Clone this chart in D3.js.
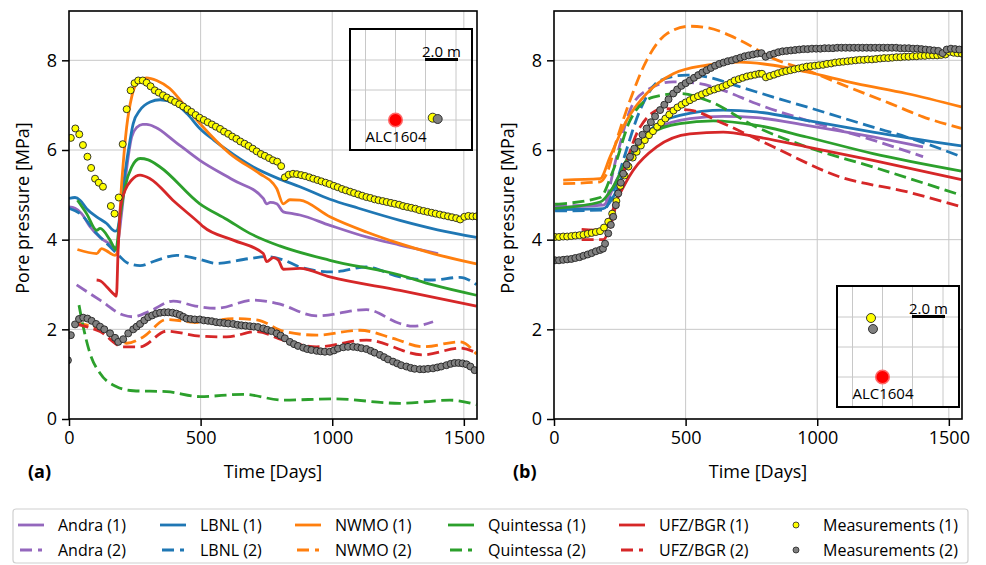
<!DOCTYPE html>
<html>
<head>
<meta charset="utf-8">
<script src="https://cdn.jsdelivr.net/npm/d3@7"></script>
<style>
body { margin: 0; background: #fff; }
svg text { font-family: 'Open Sans', sans-serif; fill: #000; }
</style>
</head>
<body>
<script>
// ---- data: [time in days, pore pressure in MPa] ----

// panel (a)
var andra1_a = [[0,4.73],[23,4.70],[48,4.58],[80,4.29],[118,4.05],[156,3.90],[180,3.82],[200,4.6],[213,5.3],[225,5.85],[238,6.29],[257,6.50],[280,6.57],[295,6.57],[330,6.50],[400,6.2],[497,5.77],[624,5.33],[738,4.92],[751,4.80],[765,4.83],[789,4.80],[814,4.62],[850,4.58],[877,4.55],[991,4.32],[1130,4.06],[1257,3.88],[1402,3.69]];
var andra2_a = [[29,2.99],[118,2.65],[206,2.32],[244,2.28],[308,2.41],[396,2.63],[480,2.52],[561,2.47],[700,2.65],[789,2.58],[941,2.30],[1130,2.44],[1257,2.13],[1307,2.07],[1383,2.17]];
var lbnl1_a = [[0,4.92],[23,4.94],[42,4.88],[67,4.69],[105,4.51],[143,4.36],[175,4.19],[183,4.21],[195,4.6],[213,5.5],[232,6.22],[244,6.59],[270,6.89],[308,7.07],[346,7.12],[400,7.05],[450,6.8],[497,6.48],[550,6.22],[600,6.0],[700,5.62],[800,5.35],[877,5.18],[991,4.9],[1100,4.7],[1257,4.43],[1400,4.22],[1548,4.05]];
var lbnl2_a = [[0,4.70],[42,4.58],[105,4.14],[156,3.84],[194,3.62],[219,3.49],[270,3.42],[333,3.54],[409,3.65],[497,3.56],[561,3.47],[687,3.58],[751,3.62],[814,3.55],[877,3.39],[1004,3.28],[1130,3.39],[1257,3.17],[1383,3.10],[1485,3.16],[1548,3.0]];
var nwmo1_a = [[32,3.78],[105,3.69],[124,3.80],[143,3.75],[175,3.65],[183,3.71],[200,5.25],[219,6.51],[238,7.18],[257,7.48],[295,7.61],[333,7.55],[383,7.37],[434,7.03],[497,6.59],[611,5.92],[725,5.47],[776,5.25],[789,5.14],[814,4.80],[839,4.89],[877,4.88],[991,4.51],[1130,4.17],[1257,3.91],[1383,3.69],[1548,3.46]];
var nwmo2_a = [[29,2.13],[118,2.02],[219,1.69],[282,1.83],[371,2.22],[497,2.15],[624,2.24],[713,2.21],[814,1.96],[941,1.87],[1105,1.98],[1231,1.80],[1345,1.61],[1485,1.72],[1548,1.45]];
var quint1_a = [[32,4.88],[67,4.58],[105,4.21],[118,4.25],[156,3.99],[178,3.78],[194,4.51],[213,5.18],[238,5.62],[270,5.81],[301,5.78],[346,5.62],[497,4.80],[600,4.45],[687,4.14],[800,3.86],[991,3.54],[1257,3.21],[1383,2.99],[1548,2.76]];
var quint2_a = [[38,2.54],[54,2.06],[80,1.46],[118,1.02],[181,0.72],[244,0.63],[371,0.61],[497,0.50],[662,0.55],[814,0.42],[1004,0.45],[1257,0.35],[1447,0.42],[1548,0.32]];
var ufz1_a = [[105,3.10],[120,3.08],[143,2.95],[175,2.76],[180,2.74],[187,3.84],[196,4.73],[213,5.10],[238,5.33],[270,5.44],[308,5.36],[400,4.85],[497,4.36],[510,4.29],[624,3.99],[738,3.69],[751,3.51],[776,3.60],[795,3.55],[814,3.34],[877,3.36],[991,3.17],[1257,2.87],[1548,2.52]];
var ufz2_a = [[29,2.11],[118,1.95],[206,1.61],[270,1.61],[371,1.96],[497,1.85],[599,1.83],[713,1.95],[814,1.76],[941,1.61],[1130,1.76],[1345,1.43],[1485,1.58],[1548,1.48]];

var meas1_a = [[7,6.27],[24,6.48],[39,6.35],[53,6.11],[70,5.85],[84,5.60],[99,5.36],[113,5.27],[129,5.18],[159,4.75],[173,4.58],[189,4.94],[204,6.13],[219,6.91],[234,7.33],[249,7.49],[263,7.55],[280,7.55],
  [295,7.50],[310,7.42],[326,7.33],[341,7.28],[357,7.22],[372,7.17],[388,7.12],[403,7.07],[419,7.02],[434,6.97],[450,6.91],[465,6.85],[481,6.78],[496,6.72],[512,6.67],[527,6.62],[543,6.57],[558,6.52],[574,6.47],[589,6.41],[605,6.36],[620,6.30],[636,6.25],[651,6.19],[667,6.14],[682,6.09],[698,6.03],[713,5.97],[729,5.91],[744,5.87],[760,5.82],[775,5.77],[791,5.74],[806,5.64],
  [820,5.39],[835,5.45],[851,5.47],[866,5.46],[882,5.44],[897,5.42],[913,5.39],[928,5.36],[944,5.33],[959,5.30],[975,5.27],[990,5.24],[1006,5.20],[1021,5.17],[1037,5.13],[1052,5.10],[1068,5.07],[1083,5.04],[1099,5.01],[1114,4.98],[1130,4.95],[1145,4.93],[1161,4.90],[1176,4.88],[1192,4.86],[1207,4.84],[1223,4.82],[1238,4.80],[1254,4.78],[1269,4.75],[1285,4.73],[1300,4.71],[1316,4.69],[1331,4.66],[1347,4.64],[1362,4.62],[1378,4.60],[1393,4.58],[1409,4.56],[1424,4.54],[1440,4.52],[1455,4.50],[1471,4.48],[1486,4.45],[1502,4.51],[1517,4.53],[1533,4.52],[1548,4.52]];
var meas2_a = [[-4,1.31],[7,1.87],[23,2.11],[38,2.23],[54,2.26],[70,2.24],[86,2.19],[103,2.12],[118,2.06],[134,2.00],[156,1.91],[175,1.81],[187,1.72],[206,1.78],[225,1.91],[244,2.00],[257,2.06],[270,2.12],[286,2.20],[301,2.27],[316,2.31],[331,2.35],[346,2.37],[362,2.38],[377,2.38],[393,2.37],[408,2.35],[421,2.32],[434,2.28],[447,2.24],[462,2.23],[478,2.22],[497,2.22],[512,2.20],[528,2.19],[543,2.18],[559,2.16],[574,2.15],[590,2.14],[605,2.13],[624,2.12],[640,2.10],[655,2.09],[671,2.08],[687,2.07],[702,2.06],[718,2.05],[738,2.02],[753,1.99],[769,1.96],[789,1.91],[804,1.86],[820,1.80],[839,1.72],[855,1.67],[870,1.63],[890,1.59],[905,1.56],[921,1.54],[941,1.52],[956,1.51],[972,1.50],[991,1.50],[1007,1.53],[1022,1.57],[1042,1.60],[1060,1.61],[1080,1.61],[1096,1.60],[1111,1.58],[1130,1.56],[1146,1.52],[1161,1.48],[1181,1.43],[1197,1.38],[1212,1.33],[1231,1.28],[1247,1.24],[1262,1.20],[1282,1.17],[1298,1.14],[1313,1.12],[1333,1.11],[1348,1.11],[1364,1.12],[1383,1.13],[1399,1.15],[1414,1.17],[1434,1.20],[1450,1.23],[1465,1.25],[1480,1.25],[1495,1.24],[1510,1.22],[1525,1.17],[1541,1.09]];

// panel (b)
var andra1_b = [[4,4.72],[187,4.77],[238,5.33],[301,5.99],[390,6.48],[516,6.70],[643,6.75],[770,6.72],[960,6.55],[1212,6.29],[1402,6.07]];
var andra2_b = [[4,4.75],[187,4.79],[238,5.85],[289,6.89],[352,7.33],[453,7.52],[554,7.48],[643,7.33],[770,7.03],[960,6.66],[1212,6.22],[1402,5.85]];
var lbnl1_b = [[4,4.67],[187,4.69],[225,4.95],[289,5.85],[365,6.44],[478,6.77],[643,6.89],[770,6.85],[960,6.66],[1212,6.40],[1548,6.09]];
var lbnl2_b = [[4,4.64],[187,4.66],[225,5.07],[263,5.77],[327,6.89],[403,7.55],[504,7.67],[580,7.63],[706,7.41],[833,7.18],[960,6.96],[1212,6.51],[1339,6.29],[1548,5.85]];
var nwmo1_b = [[35,5.33],[175,5.36],[213,5.85],[276,6.66],[352,7.26],[453,7.70],[580,7.89],[706,7.96],[833,7.89],[960,7.74],[1149,7.48],[1339,7.26],[1548,6.96]];
var nwmo2_b = [[35,5.25],[175,5.29],[200,5.47],[238,6.22],[289,7.11],[352,8.0],[428,8.59],[516,8.76],[580,8.73],[706,8.45],[833,8.04],[960,7.78],[1086,7.48],[1276,7.04],[1402,6.74],[1548,6.48]];
var quint1_b = [[4,4.70],[175,4.84],[225,5.18],[289,5.92],[365,6.36],[478,6.59],[605,6.65],[770,6.55],[960,6.29],[1212,5.92],[1548,5.53]];
var quint2_b = [[4,4.79],[175,4.94],[225,5.55],[289,6.66],[377,7.18],[478,7.26],[580,7.11],[770,6.51],[960,6.07],[1212,5.62],[1548,4.99]];
var ufz1_b = [[105,4.23],[187,4.21],[238,4.88],[301,5.55],[390,6.07],[516,6.36],[643,6.40],[770,6.29],[960,6.07],[1212,5.77],[1548,5.34]];
var ufz2_b = [[105,4.00],[187,4.00],[213,4.29],[263,5.47],[327,6.51],[415,6.92],[516,6.89],[643,6.59],[833,6.07],[1086,5.40],[1339,5.07],[1548,4.73]];

var meas1_b = [[4,4.06],[19,4.06],[35,4.07],[50,4.07],[66,4.08],[81,4.09],[97,4.10],[112,4.11],[128,4.13],[143,4.15],[159,4.17],[175,4.19],[190,4.27],[206,4.40],[221,4.58],[237,4.86],[252,5.20],[268,5.43],[283,5.63],[299,5.83],[314,5.96],[330,6.10],[345,6.22],[361,6.33],[376,6.42],[392,6.52],[407,6.61],[423,6.70],[438,6.79],[454,6.88],[469,6.95],[485,7.01],[500,7.06],[516,7.11],[531,7.16],[547,7.20],[562,7.24],[578,7.28],[593,7.32],[609,7.35],[624,7.38],[640,7.41],[655,7.45],[671,7.50],[686,7.55],[702,7.58],[717,7.61],[733,7.64],[748,7.66],[764,7.68],[779,7.70],[790,7.70],[805,7.62],[820,7.65],[836,7.68],[851,7.71],[867,7.74],[882,7.76],[898,7.78],[913,7.80],[929,7.82],[944,7.84],[960,7.86],[975,7.87],[991,7.88],[1006,7.89],[1022,7.90],[1037,7.92],[1053,7.93],[1068,7.95],[1084,7.96],[1099,7.97],[1115,7.98],[1130,7.99],[1146,8.00],[1161,8.01],[1177,8.01],[1192,8.02],[1208,8.02],[1223,8.03],[1239,8.04],[1254,8.05],[1270,8.05],[1285,8.06],[1301,8.07],[1316,8.07],[1332,8.08],[1347,8.08],[1363,8.09],[1378,8.09],[1394,8.10],[1409,8.10],[1425,8.11],[1440,8.11],[1456,8.11],[1471,8.12],[1487,8.13],[1502,8.19],[1518,8.17],[1533,8.16],[1549,8.15]];
var meas2_b = [[4,3.54],[19,3.54],[35,3.55],[50,3.56],[66,3.57],[81,3.59],[97,3.61],[112,3.64],[128,3.67],[143,3.70],[159,3.74],[175,3.77],[186,3.80],[194,3.91],[206,4.14],[216,4.33],[225,4.51],[235,4.77],[244,5.03],[254,5.27],[263,5.47],[276,5.67],[289,5.85],[305,6.03],[320,6.18],[336,6.34],[352,6.48],[368,6.62],[384,6.75],[403,6.89],[419,7.01],[435,7.13],[453,7.26],[468,7.35],[484,7.43],[500,7.49],[516,7.55],[532,7.61],[548,7.67],[564,7.73],[580,7.78],[596,7.83],[612,7.88],[628,7.92],[644,7.95],[660,7.98],[676,8.00],[692,8.03],[708,8.06],[724,8.09],[740,8.11],[756,8.13],[772,8.15],[788,8.16],[804,8.08],[820,8.12],[836,8.15],[852,8.18],[868,8.20],[884,8.21],[900,8.22],[916,8.23],[932,8.24],[948,8.25],[964,8.25],[980,8.26],[996,8.26],[1012,8.26],[1028,8.27],[1044,8.27],[1060,8.27],[1076,8.28],[1092,8.28],[1108,8.28],[1124,8.28],[1140,8.28],[1156,8.28],[1172,8.28],[1188,8.28],[1204,8.28],[1220,8.28],[1236,8.28],[1252,8.28],[1268,8.28],[1284,8.28],[1300,8.28],[1316,8.27],[1332,8.27],[1348,8.27],[1364,8.26],[1380,8.26],[1396,8.25],[1412,8.24],[1428,8.23],[1444,8.22],[1460,8.21],[1476,8.16],[1492,8.24],[1508,8.26],[1524,8.25],[1540,8.24]];

// axis ticks
var x_ticks = [0, 500, 1000, 1500];
var y_ticks = [0, 2, 4, 6, 8];

// legend entries
var models = ['Andra', 'LBNL', 'NWMO', 'Quintessa', 'UFZ/BGR'];
var model_colors = ['#9467bd', '#1f77b4', '#ff7f0e', '#2ca02c', '#d62728'];
var meas_colors = ['#ffff00', '#808080'];

// ---- drawing ----
var width = 986;
var height = 565;
var dash = '12,5.5';
var plot_top = 11;
var plot_bottom = 419;

var svg = d3.select('body')
  .append('svg')
    .attr('width', width)
    .attr('height', height);

var panels = [
  { label: '(a)', left: 69, right: 477,
    lines: [andra1_a, andra2_a, lbnl1_a, lbnl2_a, nwmo1_a, nwmo2_a, quint1_a, quint2_a, ufz1_a, ufz2_a],
    meas: [meas1_a, meas2_a],
    inset: { x: 350, y: 29, dots: [[82.7, 88.7], [87.7, 90]] } },
  { label: '(b)', left: 554, right: 962,
    lines: [andra1_b, andra2_b, lbnl1_b, lbnl2_b, nwmo1_b, nwmo2_b, quint1_b, quint2_b, ufz1_b, ufz2_b],
    meas: [meas1_b, meas2_b],
    inset: { x: 837, y: 286, dots: [[34, 32], [36, 43]] } }
];

panels.forEach(function(p, i) { drawPanel(p, i); });
drawLegend();

// one subplot with grid, lines, dots and inset
function drawPanel(p, i) {
  var x = d3.scaleLinear().domain([0, 1550]).range([p.left, p.right]);
  var y = d3.scaleLinear().domain([0, 9.1]).range([plot_bottom, plot_top]);

  var g = svg.append('g');

  // grid
  g.selectAll()
    .data(x_ticks.slice(1))
    .enter()
    .append('line')
      .attr('x1', function(d) { return x(d); })
      .attr('x2', function(d) { return x(d); })
      .attr('y1', plot_top).attr('y2', plot_bottom)
      .style('stroke', '#c8c8c8').style('stroke-width', 1);

  g.selectAll()
    .data(y_ticks.slice(1))
    .enter()
    .append('line')
      .attr('x1', p.left).attr('x2', p.right)
      .attr('y1', function(d) { return y(d); })
      .attr('y2', function(d) { return y(d); })
      .style('stroke', '#c8c8c8').style('stroke-width', 1);

  var clip_id = 'clip' + i;
  svg.append('clipPath')
    .attr('id', clip_id)
    .append('rect')
      .attr('x', p.left).attr('y', plot_top)
      .attr('width', p.right - p.left).attr('height', plot_bottom - plot_top);

  var plot = g.append('g').attr('clip-path', 'url(#' + clip_id + ')');

  var line = d3.line()
    .x(function(d) { return x(d[0]); })
    .y(function(d) { return y(d[1]); })
    .curve(d3.curveMonotoneX);

  p.lines.forEach(function(data, k) {
    plot.append('path')
      .datum(data)
      .attr('d', line)
      .style('fill', 'none')
      .style('stroke', model_colors[Math.floor(k / 2)])
      .style('stroke-width', 2.8)
      .style('stroke-dasharray', k % 2 ? dash : null);
  });

  // measurements on top
  p.meas.forEach(function(data, k) {
    plot.selectAll()
      .data(data)
      .enter()
      .append('circle')
        .attr('cx', function(d) { return x(d[0]); })
        .attr('cy', function(d) { return y(d[1]); })
        .attr('r', 3.5)
        .style('fill', meas_colors[k])
        .style('stroke', '#222')
        .style('stroke-width', 0.9);
  });

  // axes
  var xAxis = d3.axisBottom(x).tickValues(x_ticks).tickFormat(d3.format('d')).tickSize(7).tickPadding(5);
  var yAxis = d3.axisLeft(y).tickValues(y_ticks).tickFormat(d3.format('d')).tickSize(7).tickPadding(5);

  var gx = svg.append('g').attr('transform', 'translate(0,' + plot_bottom + ')').call(xAxis);
  var gy = svg.append('g').attr('transform', 'translate(' + p.left + ',0)').call(yAxis);
  [gx, gy].forEach(function(a) {
    a.select('.domain').remove();
    a.selectAll('line').style('stroke', '#000').style('stroke-width', 1.5);
    a.selectAll('text').style('font-size', '18px').style('font-family', "'Open Sans', sans-serif");
  });

  // frame
  svg.append('rect')
    .attr('x', p.left).attr('y', plot_top)
    .attr('width', p.right - p.left).attr('height', plot_bottom - plot_top)
    .style('fill', 'none').style('stroke', '#000').style('stroke-width', 1.6);

  // labels
  svg.append('text')
    .attr('x', (p.left + p.right) / 2).attr('y', 478)
    .attr('text-anchor', 'middle')
    .style('font-size', '18px')
    .text('Time [Days]');

  svg.append('text')
    .attr('transform', 'translate(' + (p.left - 40) + ',' + 208 + ') rotate(-90)')
    .attr('text-anchor', 'middle')
    .style('font-size', '18px')
    .text('Pore pressure [MPa]');

  svg.append('text')
    .attr('x', p.left - 41).attr('y', 478)
    .style('font-size', '18px').style('font-weight', 'bold')
    .text(p.label);

  drawInset(p.inset);
}

// small location map in the corner of each plot
function drawInset(s) {
  var g = svg.append('g').attr('transform', 'translate(' + s.x + ',' + s.y + ')');
  var w = 122, h = 121;

  g.append('rect').attr('width', w).attr('height', h).style('fill', '#fff');

  [15.5, 45.5, 75.5, 106].forEach(function(v) {
    g.append('line').attr('x1', v).attr('x2', v).attr('y1', 0).attr('y2', h)
      .style('stroke', '#c8c8c8').style('stroke-width', 1);
  });
  [31, 61, 91].forEach(function(v) {
    g.append('line').attr('x1', 0).attr('x2', w).attr('y1', v).attr('y2', v)
      .style('stroke', '#c8c8c8').style('stroke-width', 1);
  });

  // scale bar
  g.append('line').attr('x1', 75).attr('x2', 108).attr('y1', 30.5).attr('y2', 30.5)
    .style('stroke', '#000').style('stroke-width', 3);
  g.append('text').attr('x', 91.5).attr('y', 27.5).attr('text-anchor', 'middle')
    .style('font-size', '15px').text('2.0 m');

  // borehole
  g.append('circle').attr('cx', 45.5).attr('cy', 91).attr('r', 6.8)
    .style('fill', '#ff0000').style('stroke', '#ff6a6a').style('stroke-width', 1.5);
  g.append('text').attr('x', 46).attr('y', 113).attr('text-anchor', 'middle')
    .style('font-size', '15px').text('ALC1604');

  // sensors
  s.dots.forEach(function(d, k) {
    g.append('circle').attr('cx', d[0]).attr('cy', d[1]).attr('r', 4.5)
      .style('fill', meas_colors[k]).style('stroke', '#222').style('stroke-width', 0.9);
  });

  g.append('rect').attr('width', w).attr('height', h)
    .style('fill', 'none').style('stroke', '#000').style('stroke-width', 2);
}

// legend below both panels
function drawLegend() {
  var col_x = [18, 160, 295, 448, 619, 783];
  var row_y = [525, 550];

  svg.append('rect')
    .attr('x', 13).attr('y', 509).attr('width', 955).attr('height', 54)
    .attr('rx', 3)
    .style('fill', '#fff').style('stroke', '#d0d0d0').style('stroke-width', 1.2);

  models.forEach(function(m, i) {
    row_y.forEach(function(yy, r) {
      svg.append('line')
        .attr('x1', col_x[i] + (r ? 2 : 0)).attr('x2', col_x[i] + (r ? 24 : 26))
        .attr('y1', yy).attr('y2', yy)
        .style('stroke', model_colors[i]).style('stroke-width', 2.8)
        .style('stroke-dasharray', r ? '12,6' : null);
      svg.append('text')
        .attr('x', col_x[i] + 40).attr('y', yy + 6)
        .style('font-size', '16px')
        .text(m + ' (' + (r + 1) + ')');
    });
  });

  row_y.forEach(function(yy, r) {
    svg.append('circle')
      .attr('cx', col_x[5] + 13).attr('cy', yy).attr('r', 3)
      .style('fill', meas_colors[r]).style('stroke', '#222').style('stroke-width', 0.8);
    svg.append('text')
      .attr('x', col_x[5] + 40).attr('y', yy + 6)
      .style('font-size', '16px')
      .text('Measurements (' + (r + 1) + ')');
  });
}
</script>
</body>
</html>
